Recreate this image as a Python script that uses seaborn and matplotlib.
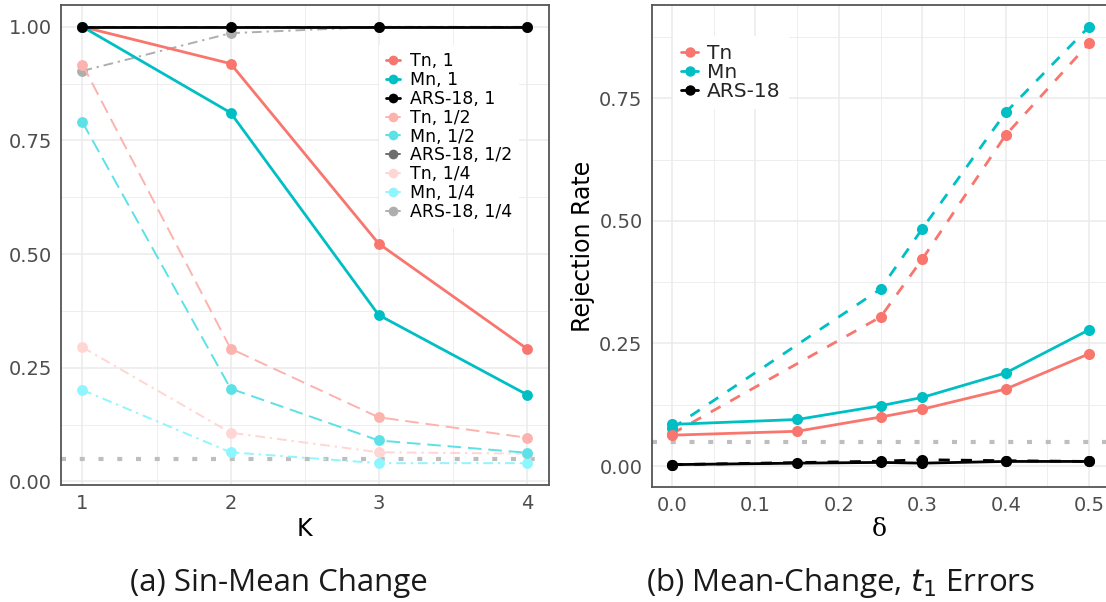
import numpy as np
import pandas as pd
import matplotlib
matplotlib.use("Agg")
import matplotlib.pyplot as plt
from matplotlib.lines import Line2D
import seaborn as sns

# ---------------- data ----------------
K = [1, 2, 3, 4]
tn_1 = [1.00, 0.919, 0.523, 0.292]
mn_1 = [1.00, 0.811, 0.366, 0.191]
ars_1 = [1.00, 1.00, 1.00, 1.00]
tn_half = [0.917, 0.292, 0.141, 0.096]
mn_half = [0.790, 0.204, 0.090, 0.063]
ars_half = [1.00, 1.00, 1.00, 1.00]
tn_quarter = [0.295, 0.107, 0.064, 0.061]
mn_quarter = [0.201, 0.064, 0.040, 0.040]
ars_quarter = [0.903, 0.986, 1.00, 1.00]

delta_solid = [0.0, 0.15, 0.25, 0.3, 0.4, 0.5]
tn_solid = [0.063, 0.071, 0.100, 0.116, 0.157, 0.229]
mn_solid = [0.085, 0.095, 0.123, 0.140, 0.190, 0.278]
ars_solid = [0.003, 0.006, 0.0075, 0.006, 0.0095, 0.0095]
delta_dashed = [0.0, 0.25, 0.3, 0.4, 0.5]
tn_dashed = [0.066, 0.304, 0.422, 0.675, 0.862]
mn_dashed = [0.077, 0.361, 0.484, 0.721, 0.896]
ars_dashed = [0.003, 0.010, 0.013, 0.011, 0.0095]

level = 0.05

left_labels = ["Tn, 1", "Mn, 1", "ARS-18, 1", "Tn, 1/2", "Mn, 1/2",
               "ARS-18, 1/2", "Tn, 1/4", "Mn, 1/4", "ARS-18, 1/4"]
left_values = [tn_1, mn_1, ars_1, tn_half, mn_half, ars_half,
               tn_quarter, mn_quarter, ars_quarter]
left_colors = ["#F8766D", "#00BFC4", "#000000", "#FCB3AE", "#5CE1E6",
               "#6E6E6E", "#FFD6D3", "#8DF6FF", "#AEAEAE"]

right_labels = ["Tn", "Mn", "ARS-18"]
right_colors = ["#F8766D", "#00BFC4", "#000000"]

# ---------------- style ----------------
sns.set_theme(style="white")
plt.rcParams['font.family'] = ['DejaVu Sans']

W, H = 1106, 602
fig = plt.figure(figsize=(W / 100, H / 100), dpi=100)

def fx(px):
    return px / W

def fy(py):
    return 1 - py / H

axL = fig.add_axes([fx(60.7), fy(485), fx(549 - 60.7), fy(5) - fy(485)])
axR = fig.add_axes([fx(651.6), fy(486.7), fx(1110 - 651.6), fy(5) - fy(486.7)])

GRID = "#EBEBEB"
TICKC = "#4D4D4D"

def style_axes(ax):
    for s in ax.spines.values():
        s.set_color("#555555")
        s.set_linewidth(1.3)
    ax.set_axisbelow(True)
    ax.grid(which="major", color=GRID, lw=1.1)
    ax.grid(which="minor", color=GRID, lw=0.6)
    ax.tick_params(which="major", length=3.5, width=1, color="#333333",
                   labelsize=14, labelcolor=TICKC, pad=3)
    ax.tick_params(which="minor", length=0)
    ax.set_xlabel("")
    ax.set_ylabel("")

# ---------------- left panel ----------------
ls_map = {0: "-", 1: (0, (7, 3.5)), 2: (0, (5, 2.5, 1.2, 2.5))}
lw_map = {0: 2.0, 1: 1.4, 2: 1.4}
for i, (lab, vals, col) in enumerate(zip(left_labels, left_values, left_colors)):
    grp = i // 3
    df = pd.DataFrame({"K": K, "rate": vals})
    sns.lineplot(data=df, x="K", y="rate", ax=axL, color=col, lw=lw_map[grp],
                 linestyle=ls_map[grp], marker="o", markersize=7.8,
                 markeredgewidth=0, legend=False, zorder=3 + (2 - grp))

axL.axhline(level, color="#BEBEBE", lw=3, linestyle=(0, (1.2, 3.3)),
            dash_capstyle="butt", zorder=2)
axL.set_xlim(0.853, 4.15)
axL.set_ylim(-0.008, 1.048)
axL.set_xticks(K)
axL.set_xticks([1.5, 2.5, 3.5], minor=True)
axL.set_yticks([0, 0.25, 0.5, 0.75, 1.0])
axL.set_yticks([0.125, 0.375, 0.625, 0.875], minor=True)
axL.set_yticklabels(["0.00", "0.25", "0.50", "0.75", "1.00"])
style_axes(axL)

handlesL = [Line2D([0], [0], color=c, lw=2.0 if i < 3 else 1.4, marker="o",
                   markersize=7, markeredgewidth=0)
            for i, c in enumerate(left_colors)]
legL = axL.legend(handlesL, left_labels, loc="center left",
                  bbox_to_anchor=(fx(379), fy(136.5)),
                  bbox_transform=fig.transFigure, fontsize=12.5,
                  frameon=True, facecolor="white", edgecolor="none",
                  framealpha=1, fancybox=False, handlelength=0.8,
                  handletextpad=0.6, labelspacing=0.05, borderpad=0.4,
                  borderaxespad=0)
for t in legL.get_texts():
    t.set_color("black")

# ---------------- right panel ----------------
for lab, col, ys, yd in zip(right_labels, right_colors,
                            [tn_solid, mn_solid, ars_solid],
                            [tn_dashed, mn_dashed, ars_dashed]):
    dfs = pd.DataFrame({"delta": delta_solid, "rate": ys})
    dfd = pd.DataFrame({"delta": delta_dashed, "rate": yd})
    sns.lineplot(data=dfd, x="delta", y="rate", ax=axR, color=col, lw=2.0,
                 linestyle=(0, (4, 4)), marker="o", markersize=8,
                 markeredgewidth=0, legend=False, zorder=3)
    sns.lineplot(data=dfs, x="delta", y="rate", ax=axR, color=col, lw=2.0,
                 linestyle="-", marker="o", markersize=8,
                 markeredgewidth=0, legend=False, zorder=4)

axR.axhline(level, color="#BEBEBE", lw=3, linestyle=(0, (1.2, 3.3)),
            dash_capstyle="butt", zorder=2)
axR.set_xlim(-0.0245, 0.525)
axR.set_ylim(-0.042, 0.94)
axR.set_xticks([0.0, 0.1, 0.2, 0.3, 0.4, 0.5])
axR.set_xticks([0.05, 0.15, 0.25, 0.35, 0.45], minor=True)
axR.set_xticklabels(["0.0", "0.1", "0.2", "0.3", "0.4", "0.5"])
axR.set_yticks([0, 0.25, 0.5, 0.75])
axR.set_yticks([0.125, 0.375, 0.625, 0.875], minor=True)
axR.set_yticklabels(["0.00", "0.25", "0.50", "0.75"])
style_axes(axR)

handlesR = [Line2D([0], [0], color=c, lw=2.0, marker="o", markersize=7.5,
                   markeredgewidth=0) for c in right_colors]
legR = axR.legend(handlesR, right_labels, loc="center left",
                  bbox_to_anchor=(fx(673), fy(72.5)),
                  bbox_transform=fig.transFigure, fontsize=14.5,
                  frameon=True, facecolor="white", edgecolor="none",
                  framealpha=1, fancybox=False, handlelength=0.86,
                  handletextpad=0.42, labelspacing=0.0, borderpad=0.4,
                  borderaxespad=0)

# ---------------- labels ----------------
fig.text(fx(304), fy(529), "K", ha="center", va="center", fontsize=17,
         color="black")
fig.text(fx(879), fy(529), "δ", ha="center", va="center", fontsize=18,
         family="DejaVu Serif", color="black")
fig.text(fx(583), fy(246), "Rejection Rate", ha="center", va="center",
         rotation=90, fontsize=17, color="black")

fig.text(fx(279), fy(583), "(a) Sin-Mean Change", ha="center", va="center",
         fontsize=22.5, family="Open Sans", color="#1a1a1a")
fig.text(fx(841), fy(583), "(b) Mean-Change, $t_1$ Errors", ha="center",
         va="center", fontsize=22.5, family="Open Sans", color="#1a1a1a")

fig.savefig("out.png", dpi=100, facecolor="white")
